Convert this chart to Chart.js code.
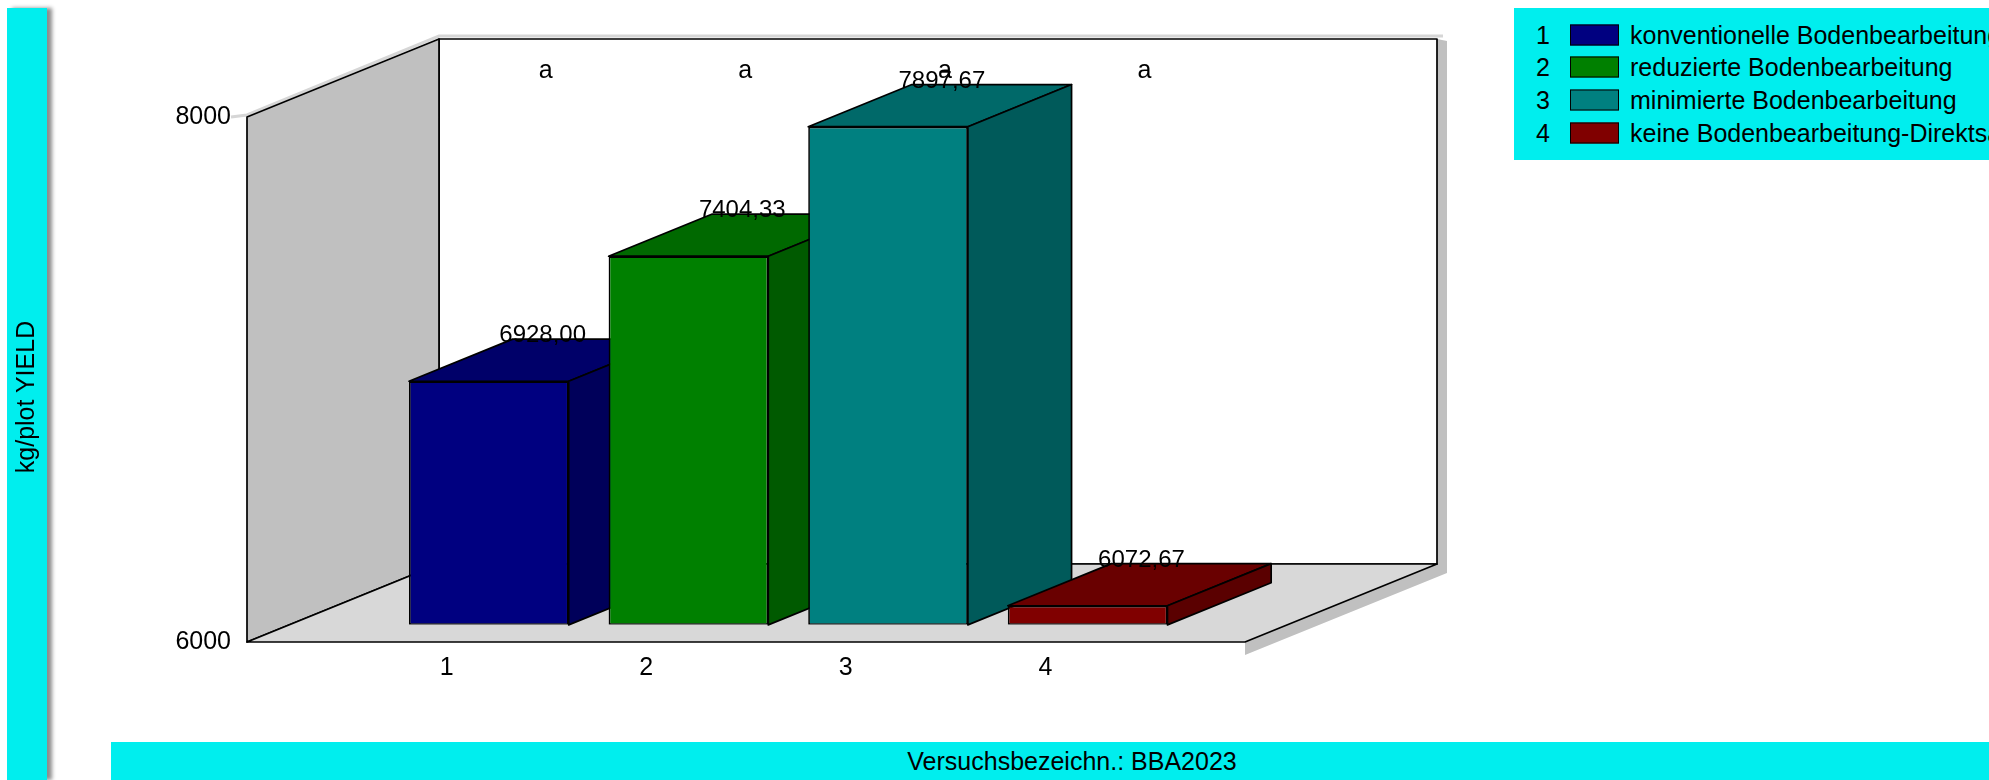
<!DOCTYPE html>
<html>
<head>
<meta charset="utf-8">
<script src="https://cdn.jsdelivr.net/npm/chart.js@4.4.0/dist/chart.umd.min.js"></script>
<style>
  html, body { margin: 0; padding: 0; background: #fff; overflow: hidden; }
  body { width: 1989px; height: 780px; position: relative; font-family: 'Liberation Sans', Arial, sans-serif; color: #000; }
  #chart { position: absolute; left: 0; top: 0; }
  .cyan { position: absolute; background: #00eeee; }
  #yPanel { left: 7px; top: 8px; width: 40px; height: 772px; box-shadow: 5px 0 4px rgba(0, 0, 0, 0.45); }
  #yPanel span { position: absolute; left: 18px; top: 389px; transform: translate(-50%, -50%) rotate(-90deg); white-space: nowrap; font-size: 25px; }
  #legend { left: 1514px; top: 8px; width: 500px; height: 152px; overflow: hidden; }
  #legend .row { position: absolute; left: 0; height: 33px; width: 500px; font-size: 25px; white-space: nowrap; }
  #legend .num { position: absolute; left: 20px; width: 18px; text-align: center; top: 50%; transform: translateY(-50%); }
  #legend .sw { position: absolute; left: 56px; width: 47px; height: 19px; top: 50%; transform: translateY(-50%); border: 1.5px solid #000; }
  #legend .txt { position: absolute; left: 116px; top: 50%; transform: translateY(-50%); }
  #footer { left: 111px; top: 742px; width: 1878px; height: 38px; }
  #footer span { position: absolute; left: 961px; top: 50%; transform: translate(-50%, -50%); font-size: 25px; white-space: nowrap; }
</style>
</head>
<body>
<canvas id="chart" width="1989" height="780"></canvas>
<div id="yPanel" class="cyan"><span>kg/plot YIELD</span></div>
<div id="legend" class="cyan"></div>
<div id="footer" class="cyan"><span>Versuchsbezeichn.: BBA2023</span></div>
<script>
const categories = ['1', '2', '3', '4'];
const treatments = [
  'konventionelle Bodenbearbeitung',
  'reduzierte Bodenbearbeitung',
  'minimierte Bodenbearbeitung',
  'keine Bodenbearbeitung-Direktsaat'
];
const yieldValues = [6928.00, 7404.33, 7897.67, 6072.67];
const letters = ['a', 'a', 'a', 'a'];
const yTicks = [6000, 8000];
const barColors = ['#000080', '#008000', '#008080', '#800000'];

// depth of the 3d box and where the bars sit inside it
const DEPTH_X = 192, DEPTH_Y = 78;
const BAR_FRONT = 0.22, BAR_DEPTH = 0.54;
const FONT = "'Liberation Sans', Arial, sans-serif";

function shade(hex, f) {
  const n = parseInt(hex.slice(1), 16);
  const c = [(n >> 16) & 255, (n >> 8) & 255, n & 255].map(v => Math.round(v * f));
  return 'rgb(' + c.join(',') + ')';
}

function poly(ctx, pts, fill, stroke) {
  ctx.beginPath();
  pts.forEach((p, i) => i ? ctx.lineTo(p[0], p[1]) : ctx.moveTo(p[0], p[1]));
  ctx.closePath();
  if (fill) { ctx.fillStyle = fill; ctx.fill(); }
  if (stroke) { ctx.strokeStyle = stroke; ctx.lineWidth = 1.7; ctx.lineJoin = 'round'; ctx.stroke(); }
}

const box3d = {
  id: 'box3d',
  beforeDatasetsDraw(chart) {
    const { ctx, chartArea: a } = chart;
    const L = a.left, R = a.right, T = a.top, B = a.bottom;
    const bl = L + DEPTH_X, br = R + DEPTH_X, bt = T - DEPTH_Y, bb = B - DEPTH_Y;

    ctx.save();
    // soft shadow round the box
    ctx.strokeStyle = '#d6d6d6';
    ctx.lineWidth = 3;
    ctx.beginPath();
    ctx.moveTo(L - 16, T); ctx.lineTo(L, T - 2);
    ctx.lineTo(bl, bt - 3); ctx.lineTo(br + 6, bt - 3);
    ctx.stroke();
    poly(ctx, [[br, bt], [br + 10, bt + 2], [br + 10, bb + 9], [R, B + 13], [R, B], [br, bb]], '#c0c0c0');

    // walls and floor
    poly(ctx, [[bl, bt], [br, bt], [br, bb], [bl, bb]], '#ffffff', '#000');
    poly(ctx, [[L, T], [bl, bt], [bl, bb], [L, B]], '#c0c0c0', '#000');
    poly(ctx, [[L, B], [R, B], [br, bb], [bl, bb]], '#d8d8d8', '#000');

    // top and side faces of the bars
    const fx = DEPTH_X * BAR_FRONT, fy = -DEPTH_Y * BAR_FRONT;
    const dx = DEPTH_X * BAR_DEPTH, dy = -DEPTH_Y * BAR_DEPTH;
    chart.getDatasetMeta(0).data.forEach((bar, i) => {
      const p = bar.getProps(['x', 'y', 'base', 'width'], true);
      const l = p.x - p.width / 2 + fx, r = p.x + p.width / 2 + fx;
      const t = p.y + fy, b = p.base + fy;
      poly(ctx, [[l, t], [r, t], [r + dx, t + dy], [l + dx, t + dy]], shade(barColors[i], 0.82), '#000');
      poly(ctx, [[r, t], [r + dx, t + dy], [r + dx, b + dy], [r, b]], shade(barColors[i], 0.7), '#000');
    });
    ctx.restore();

    // front faces are drawn by Chart.js, shifted into the box
    ctx.save();
    ctx.translate(fx, fy);
  },
  afterDatasetsDraw(chart) {
    const { ctx, chartArea: a } = chart;
    ctx.restore();
    const fx = DEPTH_X * BAR_FRONT, fy = -DEPTH_Y * BAR_FRONT;
    const dx = DEPTH_X * BAR_DEPTH, dy = -DEPTH_Y * BAR_DEPTH;
    ctx.save();
    ctx.fillStyle = '#000';
    ctx.textAlign = 'center';
    chart.getDatasetMeta(0).data.forEach((bar, i) => {
      const p = bar.getProps(['x', 'y'], true);
      const cx = p.x + fx + dx / 2;
      ctx.font = '24px ' + FONT;
      ctx.textBaseline = 'alphabetic';
      ctx.fillText(yieldValues[i].toFixed(2).replace('.', ','), cx + 2, p.y + fy + dy + 3);
      ctx.font = '25px ' + FONT;
      ctx.textBaseline = 'middle';
      ctx.fillText(letters[i], cx + 5, a.top - 46);
    });
    ctx.restore();
  }
};

new Chart(document.getElementById('chart'), {
  type: 'bar',
  data: {
    datasets: [{
      data: yieldValues.map((v, i) => ({ x: i + 1, y: v })),
      base: yTicks[0],
      backgroundColor: barColors,
      borderColor: '#000',
      borderWidth: 1.7,
      borderSkipped: false,
      barPercentage: 1,
      categoryPercentage: 0.8
    }]
  },
  options: {
    responsive: false,
    animation: false,
    devicePixelRatio: 1,
    layout: { padding: { left: 0, right: 744, top: 117, bottom: 78 } },
    plugins: { legend: { display: false }, tooltip: { enabled: false } },
    scales: {
      x: {
        type: 'linear',
        min: 0,
        max: 5,
        offset: false,
        grid: { display: false, drawTicks: false, offset: false },
        border: { display: false },
        afterBuildTicks: s => { s.ticks = categories.map((c, i) => ({ value: i + 1 })); },
        afterFit: s => { s.height = 60; },
        ticks: {
          padding: 11,
          color: '#000',
          font: { family: FONT, size: 25 },
          callback: v => categories[v - 1]
        }
      },
      y: {
        min: yTicks[0],
        max: yTicks[yTicks.length - 1],
        grid: { display: false, drawTicks: false },
        border: { display: false },
        afterBuildTicks: s => { s.ticks = yTicks.map(v => ({ value: v })); },
        afterFit: s => { s.width = 247; },
        ticks: {
          padding: 16,
          color: '#000',
          font: { family: FONT, size: 25 },
          callback: v => String(v)
        }
      }
    }
  },
  plugins: [box3d]
});

const legend = document.getElementById('legend');
treatments.forEach((name, i) => {
  const row = document.createElement('div');
  row.className = 'row';
  row.style.top = (10 + i * 32.7) + 'px';
  row.innerHTML = '<span class="num">' + categories[i] + '</span>' +
    '<span class="sw" style="background:' + barColors[i] + '"></span>' +
    '<span class="txt">' + name + '</span>';
  legend.appendChild(row);
});
</script>
</body>
</html>
